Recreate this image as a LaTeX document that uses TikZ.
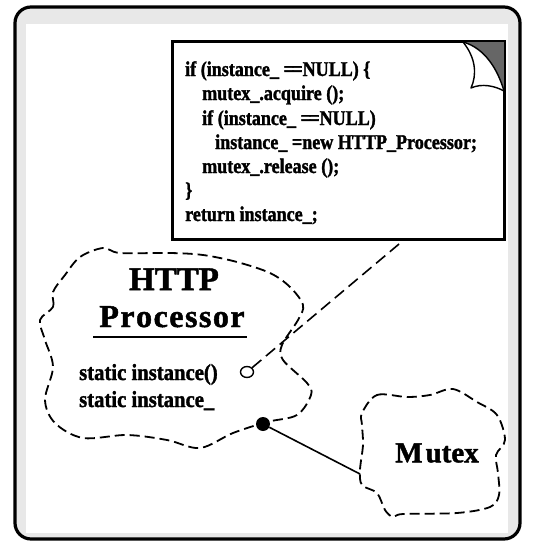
\documentclass[tikz,border=0pt]{standalone}
\usepackage{fontspec}
\usetikzlibrary{shapes.geometric}
\setmainfont{Liberation Serif}
\newfontfamily\codefont[FakeStretch=0.86,FakeBold=1.5]{Liberation Serif}
\newfontfamily\memfont[FakeStretch=0.9,FakeBold=1.5]{Liberation Serif}
\newfontfamily\titlefont[FakeBold=1.5]{Liberation Serif}
\begin{document}
\begin{tikzpicture}[x=1pt,y=-1pt,
  cloud/.style={draw=black, line width=1.8pt, dash pattern=on 10pt off 5pt, line join=round},
  codeline/.style={anchor=base west, inner sep=0pt, font=\codefont\fontsize{21}{24}\bfseries\selectfont},
  member/.style={anchor=base west, inner sep=0pt, font=\memfont\fontsize{23}{26}\bfseries\selectfont},
  title/.style={anchor=base, inner sep=0pt, font=\titlefont\fontsize{32}{36}\bfseries\selectfont},
  notebox/.style={draw=black, line width=1.8pt, fill=white, minimum width=331pt, minimum height=197pt, inner sep=0pt},
]
\useasboundingbox (0,0) rectangle (542,541);
% frame
\draw[line width=3.2pt, rounded corners=16pt, fill=black!9] (15,7) rectangle (520,539);
\fill[white] (26,24) rectangle (508,533);

% note box
\node[notebox] (note) at (338.5,140.5) {};
\fill[black!60] (463,42) -- (504,42) -- (504,91) .. controls (498,70) and (485,48) .. (463,42) -- cycle;
\draw[line width=1.8pt] (note.north west) rectangle (note.south east);
\draw[line width=1.4pt, line join=round] (463,42) .. controls (476,58) and (477,75) .. (471,88)
   .. controls (482,83) and (495,86) .. (504,91);
\draw[line width=1.4pt] (463,42) .. controls (485,48) and (498,70) .. (504,91);

\node[codeline] (c1) at (185,76) {if (instance\_ =\kern-1.5pt=NULL) \{};
\node[codeline] (c2) at (202,100) {mutex\_.acquire ();};
\node[codeline] (c3) at (202,125) {if (instance\_ =\kern-1.5pt=NULL)};
\node[codeline] (c4) at (215,149) {instance\_ =new HTTP\_Processor;};
\node[codeline] (c5) at (202,173) {mutex\_.release ();};
\node[codeline] (c6) at (185,197) {\}};
\node[codeline] (c7) at (185,221) {return instance\_;};

% HTTP Processor cloud
\draw[cloud] plot[smooth cycle, tension=0.55] coordinates {
 (40,320) (53,307) (53,292) (65,275) (80,257) (103,248) (120,253) (170,253) (203,255)
 (237,262) (270,273) (290,287) (303,305) (298,320) (282,345) (283,360) (307,383)
 (311,395) (297,415) (267,422) (233,433) (200,448) (167,440) (127,435) (83,438)
 (55,423) (45,400) (53,367) (45,340)};
\node[title, font=\titlefont\fontsize{33}{36}\bfseries\selectfont] (t1) at (174,290) {HTTP};
\node[title] (t2) at (172,327) {P\kern1.5pt r\kern1.5pt o\kern1.5pt c\kern1.5pt e\kern1.5pt s\kern1.5pt s\kern1.5pt o\kern1.5pt r};
\draw[line width=2pt] (93,337) -- (247,337);
\node[member] (m1) at (79,380) {static instance()};
\node[member] (m2) at (79,407) {static instance\_};

\node[draw, line width=1.4pt, ellipse, minimum width=13pt, minimum height=11pt, inner sep=0pt, fill=white] (oc) at (247,372) {};
\coordinate (nt) at (405,239);
\draw[line width=1.6pt, dash pattern=on 12pt off 6pt] (oc) -- (nt);

% Mutex cloud
\draw[cloud] plot[smooth cycle, tension=0.55] coordinates {
 (362,413) (377,395) (407,397) (430,395) (453,389) (477,402) (497,415) (505,440)
 (496,455) (498,473) (499,495) (490,507) (457,513) (403,514) (393,517) (385,510)
 (377,493) (362,485) (360,470) (363,445) (362,425)};
\node[inner sep=0pt, font=\titlefont\fontsize{29}{32}\bfseries\selectfont] (mx) at (437,453) {M\kern3pt utex};

\node[circle, fill=black, minimum size=14pt, inner sep=0pt] (fd) at (263,424) {};
\coordinate (mc) at (360,474);
\draw[line width=1.6pt] (fd) -- (mc);
\end{tikzpicture}
\end{document}
